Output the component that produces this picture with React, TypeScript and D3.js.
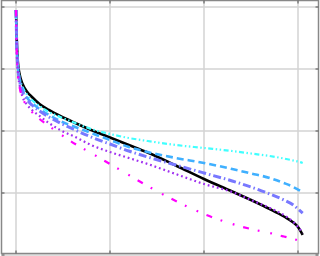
import React from "react";
import * as d3 from "d3";

const xValues = [0, 0.005, 0.01, 0.02, 0.04, 0.07, 0.12, 0.17, 0.25, 0.35, 0.47, 0.63, 0.8, 1.0, 1.2, 1.4, 1.7, 2.0, 2.3, 2.5, 2.7, 2.85, 2.95, 3.0, 3.05];

const toV = (p: number) => +((255 - p) / 62).toFixed(3);

const blackSeries = [10, 30, 45, 62, 75, 84, 92, 97, 104, 110, 116, 123, 130, 137.5, 145, 152.5, 165.5, 179, 191.5, 200, 209, 216.5, 222.5, 227, 235].map(toV);
const cyanSeries = [10, 31, 47, 64, 78, 87, 95, 100, 106, 112, 117, 123, 129, 134, 138, 141, 145, 148, 151, 153.5, 156, 158.5, 160.5, 161.5, 163].map(toV);
const blueSeries = [10, 32, 49, 66, 80, 90, 98, 103, 109, 115, 121, 127, 133, 140, 147, 152, 158, 163, 169, 173.5, 178, 183, 187, 189.5, 192].map(toV);
const slateSeries = [10, 33, 51, 68, 82, 92, 100, 105, 111, 117, 123, 130, 137, 144, 151, 157, 165, 173, 181, 187, 194, 200, 205, 209, 213].map(toV);
const purpleSeries = [10, 36, 55, 72, 86, 97, 105, 110, 116, 123, 130, 137, 145, 152, 158, 164, 174, 184, 192, 200, 208, 215, 222, 227, 233].map(toV);
const magentaSeries = [10, 40, 58, 75, 88, 98, 106, 112, 119, 126, 134, 144, 153, 164, 175, 186, 201, 214, 224, 229, 233, 236.5, 239, 240.5, 243].map(toV);

const xTicks = [0, 1, 2, 3];
const yTicks = [0, 1, 2, 3, 4];

const series = [
  { values: blackSeries, color: "#000000", width: 2.6, dash: "" },
  { values: cyanSeries, color: "#40ffff", width: 2.2, dash: "5 2.5 1.5 2.5 1.5 2.5" },
  { values: blueSeries, color: "#40b0ff", width: 2.6, dash: "7 4" },
  { values: slateSeries, color: "#7878ff", width: 3, dash: "8 3 1.5 3" },
  { values: purpleSeries, color: "#a030f0", width: 2.2, dash: "1.8 2.9" },
  { values: magentaSeries, color: "#ff00ff", width: 2.2, dash: "6 9 1.8 11 1.8 9" },
];

export default function App() {
  const W = 320, H = 256;
  const left = 1.5, right = 318.5, top = 0.5, bottom = 253.5;
  const x = d3.scaleLinear().domain([(left - 16) / 94, (right - 16) / 94]).range([left, right]);
  const y = d3.scaleLinear().domain([(255 - bottom) / 62, (255 - top) / 62]).range([bottom, top]);
  const line = d3.line<number>().x((_, i) => x(xValues[i])).y((d) => y(d)).curve(d3.curveMonotoneX);
  return (
    <svg width={W} height={H} style={{ position: "absolute", left: 0, top: 0, background: "#fff" }}>
      <rect x={0} y={0} width={W} height={H} fill="#fff" />
      {xTicks.map((t) => (
        <line key={"gx" + t} x1={x(t)} x2={x(t)} y1={top} y2={bottom} stroke="#d3d3d3" strokeWidth={1.5} />
      ))}
      {yTicks.map((t) => (
        <line key={"gy" + t} x1={left} x2={right} y1={y(t)} y2={y(t)} stroke="#d3d3d3" strokeWidth={1.5} />
      ))}
      {series.map((s, i) => (
        <path key={i} d={line(s.values) || ""} fill="none" stroke={s.color} strokeWidth={s.width} strokeDasharray={s.dash} strokeLinecap="butt" strokeLinejoin="round" />
      ))}
      <rect x={left} y={top} width={right - left} height={bottom - top} fill="none" stroke="#888" strokeWidth={1.5} />
      {xTicks.map((t) => (
        <g key={"tx" + t}>
          <line x1={x(t)} x2={x(t)} y1={bottom} y2={bottom - 3} stroke="#666" strokeWidth={1.2} />
          <line x1={x(t)} x2={x(t)} y1={top} y2={top + 3} stroke="#666" strokeWidth={1.2} />
        </g>
      ))}
      {yTicks.map((t) => (
        <g key={"ty" + t}>
          <line x1={left} x2={left + 3} y1={y(t)} y2={y(t)} stroke="#666" strokeWidth={1.2} />
          <line x1={right} x2={right - 3} y1={y(t)} y2={y(t)} stroke="#666" strokeWidth={1.2} />
        </g>
      ))}
    </svg>
  );
}
